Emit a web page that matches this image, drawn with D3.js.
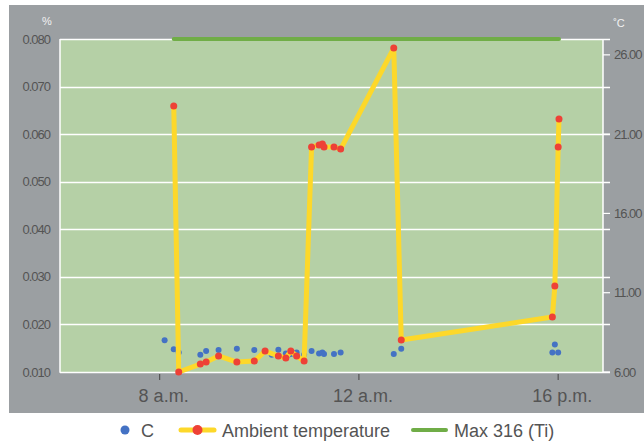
<!DOCTYPE html>
<html>
<head>
<meta charset="utf-8">
<script src="https://cdn.jsdelivr.net/npm/d3@7"></script>
<style>
  html, body { margin: 0; padding: 0; background: #ffffff; }
  svg { display: block; font-family: "Liberation Sans", Arial, sans-serif; }
</style>
</head>
<body>
<svg id="chart" width="644" height="443"></svg>
<script>
// ---- Data ----
const tempTimes = ["08:17","08:23","08:49","08:56","09:11","09:33","09:54","10:07","10:23","10:32","10:38","10:45","10:54",
                   "11:03","11:12","11:16","11:18","11:30","11:38","12:42","12:51","15:53","15:56","16:00","16:01"];
const tempValues = [22.77, 6.0, 6.5, 6.63, 7.01, 6.63, 6.69, 7.32, 7.01, 6.88, 7.32, 7.01, 6.69,
                    20.19, 20.32, 20.38, 20.19, 20.19, 20.06, 26.43, 8.02, 9.47, 11.42, 20.19, 21.95];

const cTimes = ["08:06","08:17","08:23","08:49","08:56","09:11","09:33","09:54","10:07","10:15","10:23","10:32","10:35","10:38",
                "10:45","10:54","11:03","11:12","11:16","11:18","11:30","11:38","12:42","12:51","15:53","15:56","16:00"];
const cValues = [0.0167, 0.0148, 0.0141, 0.0136, 0.0144, 0.0146, 0.0149, 0.0146, 0.0144, 0.0136, 0.0147, 0.0139, 0.0136, 0.0138,
                 0.0141, 0.0136, 0.0144, 0.0139, 0.0141, 0.0138, 0.0138, 0.0141, 0.0138, 0.0149, 0.0141, 0.0158, 0.0141];

const maxTimes = ["08:17", "16:01"];
const maxValues = [0.080, 0.080];

const leftTicks = [0.010, 0.020, 0.030, 0.040, 0.050, 0.060, 0.070, 0.080];
const rightTicks = [6, 11, 16, 21, 26];
const xTickTimes = ["08:00", "12:00", "16:00"];
const xTickLabels = ["8 a.m.", "12 a.m.", "16 p.m."];
const seriesNames = ["C", "Ambient temperature", "Max 316 (Ti)"];

// ---- Setup ----
const parse = d3.timeParse("%H:%M");
const svg = d3.select("#chart");
const L = 60, R = 603, T = 39, B = 372;

const x = d3.scaleTime().domain([parse("06:00"), parse("16:54")]).range([L, R]);
const yL = d3.scaleLinear().domain([0.010, 0.080]).range([B, T]);
const yR = d3.scaleLinear().domain([6, 27]).range([B, T]);

const col = {
  bg: "#9b9fa2", plot: "#b5d0a6", grid: "#ffffff", text: "#545454",
  blue: "#4472c4", yellow: "#fdd82a", red: "#ee4136", green: "#70ad47"
};

// gray panel
svg.append("rect").attr("x", 9).attr("y", 5).attr("width", 635).attr("height", 408).attr("fill", col.bg);
// plot area
svg.append("rect").attr("x", L).attr("y", T).attr("width", R - L).attr("height", B - T).attr("fill", col.plot);

// gridlines (left axis)
svg.append("g").selectAll("line").data(leftTicks).join("line")
  .attr("x1", L).attr("x2", 610)
  .attr("y1", d => Math.round(yL(d)) + 0.5).attr("y2", d => Math.round(yL(d)) + 0.5)
  .attr("stroke", col.grid).attr("stroke-width", 1.5);

// borders left and right
svg.append("line").attr("x1", L).attr("x2", L).attr("y1", T).attr("y2", B + 0.75).attr("stroke", "#fff").attr("stroke-width", 1.5);
svg.append("line").attr("x1", R).attr("x2", R).attr("y1", T).attr("y2", B + 0.75).attr("stroke", "#fff").attr("stroke-width", 1.5);

// right axis ticks
svg.append("g").selectAll("line").data(rightTicks).join("line")
  .attr("x1", R).attr("x2", 610)
  .attr("y1", d => yR(d)).attr("y2", d => yR(d))
  .attr("stroke", "#fff").attr("stroke-width", 1.2);

// left labels
svg.append("g").selectAll("text").data(leftTicks).join("text")
  .attr("x", 50).attr("y", d => yL(d) + 4.5)
  .attr("text-anchor", "end").attr("font-size", 13).attr("letter-spacing", "-1px")
  .attr("fill", col.text).text(d => d.toFixed(3));

// right labels
svg.append("g").selectAll("text").data(rightTicks).join("text")
  .attr("x", 614).attr("y", d => yR(d) + 4.5)
  .attr("text-anchor", "start").attr("font-size", 13).attr("letter-spacing", "-1px")
  .attr("fill", col.text).text(d => d.toFixed(2));

// unit labels
svg.append("text").attr("x", 47).attr("y", 25).attr("text-anchor", "middle")
  .attr("font-size", 11).attr("fill", "#f2f2f2").text("%");
svg.append("text").attr("x", 619).attr("y", 27).attr("text-anchor", "middle")
  .attr("font-size", 11).attr("fill", "#f2f2f2").text("˚C");

// x ticks and labels
const xt = xTickTimes.map(parse);
svg.append("g").selectAll("line").data(xt).join("line")
  .attr("x1", d => x(d)).attr("x2", d => x(d)).attr("y1", B + 2).attr("y2", B + 8)
  .attr("stroke", col.text).attr("stroke-width", 1.2);
svg.append("g").selectAll("text").data(xt).join("text")
  .attr("x", d => x(d) + 4).attr("y", 402)
  .attr("text-anchor", "middle").attr("font-size", 18)
  .attr("fill", col.text).text((d, i) => xTickLabels[i]);

// Max line
const maxData = maxTimes.map((t, i) => ({ t: parse(t), v: maxValues[i] }));
svg.append("path").datum(maxData)
  .attr("d", d3.line().x(d => x(d.t)).y(d => yL(d.v)))
  .attr("stroke", col.green).attr("stroke-width", 4).attr("fill", "none").attr("stroke-linecap", "round");

// C dots
const cData = cTimes.map((t, i) => ({ t: parse(t), v: cValues[i] }));
svg.append("g").selectAll("circle").data(cData).join("circle")
  .attr("cx", d => x(d.t)).attr("cy", d => yL(d.v)).attr("r", 3).attr("fill", col.blue);

// Ambient temperature
const tData = tempTimes.map((t, i) => ({ t: parse(t), v: tempValues[i] }));
svg.append("path").datum(tData)
  .attr("d", d3.line().x(d => x(d.t)).y(d => yR(d.v)))
  .attr("stroke", col.yellow).attr("stroke-width", 5).attr("fill", "none")
  .attr("stroke-linejoin", "round");
svg.append("g").selectAll("circle").data(tData).join("circle")
  .attr("cx", d => x(d.t)).attr("cy", d => yR(d.v)).attr("r", 3.5).attr("fill", col.red);

// Legend
const lg = svg.append("g");
lg.append("circle").attr("cx", 125).attr("cy", 430).attr("r", 4.5).attr("fill", col.blue);
lg.append("text").attr("x", 141).attr("y", 436.5).attr("font-size", 18).attr("fill", col.text).text(seriesNames[0]);
lg.append("line").attr("x1", 181).attr("x2", 214).attr("y1", 430).attr("y2", 430)
  .attr("stroke", col.yellow).attr("stroke-width", 5).attr("stroke-linecap", "round");
lg.append("circle").attr("cx", 197.5).attr("cy", 430).attr("r", 5).attr("fill", col.red);
lg.append("text").attr("x", 222).attr("y", 436.5).attr("font-size", 18).attr("fill", col.text).text(seriesNames[1]);
lg.append("line").attr("x1", 413).attr("x2", 446).attr("y1", 430).attr("y2", 430)
  .attr("stroke", col.green).attr("stroke-width", 4).attr("stroke-linecap", "round");
lg.append("text").attr("x", 454).attr("y", 436.5).attr("font-size", 18).attr("fill", col.text).text(seriesNames[2]);
</script>
</body>
</html>
